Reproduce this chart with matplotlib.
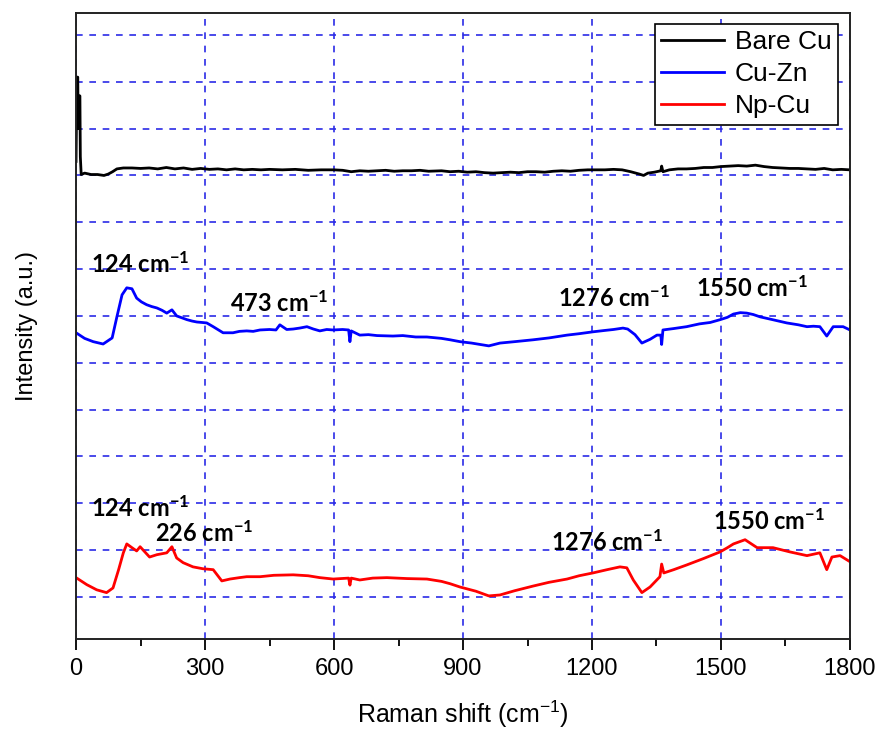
import matplotlib
matplotlib.use("Agg")
import matplotlib.pyplot as plt
from matplotlib.ticker import MultipleLocator

plt.rcParams['mathtext.default'] = 'regular'
plt.rcParams['font.family'] = ['Liberation Sans', 'DejaVu Sans']

# Bare Cu spectrum (offset, arbitrary units)
bare_x = [0, 2, 4, 5, 6, 9, 10, 12, 20, 35, 50, 65, 75, 85, 95, 110, 130, 150, 170, 190,
          210, 230, 250, 270, 290, 310, 330, 350, 370, 390, 410, 430, 450, 480, 510, 540,
          570, 600, 620, 640, 660, 680, 700, 720, 740, 760, 780, 800, 820, 850, 870, 890,
          910, 930, 950, 970, 990, 1010, 1030, 1050, 1070, 1090, 1110, 1130, 1150, 1170,
          1190, 1210, 1230, 1250, 1270, 1290, 1310, 1320, 1330, 1345, 1360, 1362, 1365,
          1380, 1400, 1420, 1440, 1460, 1480, 1500, 1520, 1540, 1560, 1580, 1600, 1620,
          1640, 1660, 1680, 1700, 1720, 1740, 1760, 1780, 1800]
bare_y = [10.3, 12.1, 12.1, 11.0, 11.7, 11.7, 10.4, 10.02, 10.05, 10.02, 10.02, 10.0, 10.03,
          10.08, 10.14, 10.16, 10.16, 10.15, 10.16, 10.14, 10.17, 10.14, 10.16, 10.13, 10.15,
          10.13, 10.14, 10.12, 10.14, 10.12, 10.13, 10.12, 10.13, 10.12, 10.13, 10.11, 10.12,
          10.12, 10.11, 10.08, 10.1, 10.09, 10.1, 10.11, 10.09, 10.1, 10.1, 10.11, 10.09,
          10.1, 10.08, 10.09, 10.07, 10.08, 10.06, 10.05, 10.06, 10.07, 10.06, 10.08, 10.08,
          10.07, 10.09, 10.1, 10.09, 10.11, 10.12, 10.12, 10.12, 10.13, 10.12, 10.08, 10.03,
          10.0, 10.05, 10.07, 10.1, 10.2, 10.08, 10.12, 10.14, 10.14, 10.15, 10.17, 10.17,
          10.19, 10.2, 10.21, 10.2, 10.22, 10.19, 10.17, 10.16, 10.15, 10.15, 10.14, 10.13,
          10.15, 10.12, 10.13, 10.12]

# Cu-Zn spectrum
cuzn_x = [0, 20, 40, 63, 84, 95, 107, 118, 130, 141, 152, 164, 176, 188, 200, 211, 223, 234,
          246, 258, 270, 281, 293, 304, 319, 342, 365, 380, 397, 412, 428, 450, 465, 474, 490,
          505, 520, 537, 552, 567, 583, 598, 620, 634, 637, 640, 660, 680, 700, 737, 760, 790,
          816, 850, 870, 893, 920, 960, 986, 1020, 1063, 1100, 1142, 1170, 1202, 1230, 1250,
          1272, 1283, 1300, 1316, 1335, 1351, 1360, 1362, 1365, 1390, 1420, 1450, 1475, 1498,
          1515, 1529, 1545, 1560, 1575, 1591, 1620, 1653, 1680, 1700, 1715, 1730, 1746, 1761,
          1784, 1800]
cuzn_y = [6.64, 6.52, 6.45, 6.40, 6.53, 6.98, 7.45, 7.60, 7.58, 7.38, 7.30, 7.24, 7.20, 7.17,
          7.12, 7.06, 7.13, 7.00, 6.96, 6.92, 6.89, 6.87, 6.86, 6.85, 6.77, 6.64, 6.64, 6.67,
          6.68, 6.67, 6.70, 6.71, 6.70, 6.81, 6.71, 6.72, 6.74, 6.77, 6.72, 6.68, 6.71, 6.70,
          6.71, 6.70, 6.45, 6.68, 6.59, 6.60, 6.58, 6.57, 6.58, 6.55, 6.55, 6.52, 6.49, 6.45,
          6.42, 6.36, 6.42, 6.45, 6.49, 6.53, 6.59, 6.62, 6.66, 6.69, 6.71, 6.74, 6.72, 6.60,
          6.42, 6.50, 6.59, 6.59, 6.39, 6.70, 6.73, 6.77, 6.83, 6.86, 6.92, 6.97, 7.04, 7.07,
          7.06, 7.03, 6.98, 6.92, 6.85, 6.81, 6.77, 6.78, 6.77, 6.57, 6.77, 6.77, 6.70]

# Np-Cu spectrum
npcu_x = [0, 25, 48, 71, 86, 99, 110, 118, 130, 141, 149, 160, 171, 188, 211, 223, 234, 249,
          272, 295, 319, 339, 358, 380, 397, 428, 460, 505, 540, 567, 598, 634, 637, 640, 660,
          690, 723, 770, 816, 850, 870, 893, 930, 960, 986, 1020, 1063, 1100, 1142, 1170,
          1202, 1235, 1265, 1281, 1296, 1316, 1335, 1358, 1362, 1367, 1390, 1420, 1460, 1498,
          1515, 1529, 1556, 1584, 1621, 1660, 1700, 1730, 1746, 1758, 1777, 1800]
npcu_y = [1.41, 1.26, 1.15, 1.09, 1.19, 1.58, 1.94, 2.13, 2.05, 1.98, 2.07, 1.96, 1.85, 1.90,
          1.94, 2.07, 1.83, 1.73, 1.64, 1.60, 1.58, 1.34, 1.38, 1.41, 1.43, 1.43, 1.46, 1.47,
          1.45, 1.41, 1.38, 1.40, 1.25, 1.40, 1.36, 1.40, 1.41, 1.39, 1.38, 1.33, 1.28, 1.21,
          1.12, 1.02, 1.04, 1.13, 1.23, 1.31, 1.38, 1.45, 1.51, 1.58, 1.64, 1.62, 1.36, 1.09,
          1.21, 1.43, 1.70, 1.51, 1.58, 1.68, 1.82, 1.96, 2.05, 2.13, 2.22, 2.05, 2.05, 1.96,
          1.88, 1.94, 1.58, 1.85, 1.88, 1.75]

# peak labels
peak_text = ['124 cm$^{-1}$', '473 cm$^{-1}$', '1276 cm$^{-1}$', '1550 cm$^{-1}$',
             '124 cm$^{-1}$', '226 cm$^{-1}$', '1276 cm$^{-1}$', '1550 cm$^{-1}$']
peak_x = [149, 472, 1251, 1572, 149, 298, 1235, 1612]
peak_y = [8.11, 7.28, 7.38, 7.60, 2.90, 2.37, 2.17, 2.62]

fig = plt.figure(figsize=(8.75, 7.3), dpi=100)
ax = fig.add_axes([0.0869, 0.1247, 0.8845, 0.8575])

ax.plot(bare_x, bare_y, color='black', lw=2, label='Bare Cu')
ax.plot(cuzn_x, cuzn_y, color='#0000ff', lw=2, label='Cu-Zn')
ax.plot(npcu_x, npcu_y, color='#ff0000', lw=2, label='Np-Cu')

for t, x, y in zip(peak_text, peak_x, peak_y):
    ax.text(x, y, t, ha='center', va='center', fontsize=17, fontweight='bold',
            family=['Lato', 'DejaVu Sans'])

ax.set_xlim(0, 1800)
ax.set_ylim(0.1, 13.47)
ax.xaxis.set_major_locator(MultipleLocator(300))
ax.xaxis.set_minor_locator(MultipleLocator(150))
ax.set_yticks(range(1, 14))
ax.set_yticklabels([])
ax.tick_params(axis='y', length=0)
ax.tick_params(axis='x', which='major', direction='out', length=8, width=1.3,
               labelsize=17, pad=6)
ax.tick_params(axis='x', which='minor', direction='out', length=5, width=1.3)

ax.grid(True, color='#2b2be6', linestyle=(0, (4, 4)), lw=1.2)
for s in ax.spines.values():
    s.set_linewidth(1.4)
    s.set_color('#222222')

ax.set_xlabel('Raman shift (cm$^{-1}$)', fontsize=18, labelpad=13)
ax.set_ylabel('Intensity (a.u.)', fontsize=17, labelpad=24)

leg = ax.legend(loc='upper right', bbox_to_anchor=(0.985, 0.983),
                frameon=True, fancybox=False, edgecolor='black', framealpha=1,
                labelspacing=0.3, handlelength=2.4, handletextpad=0.4,
                borderpad=0.25, borderaxespad=0, prop={'size': 19})
leg.get_frame().set_linewidth(1.2)

fig.savefig('out.png', dpi=100)
